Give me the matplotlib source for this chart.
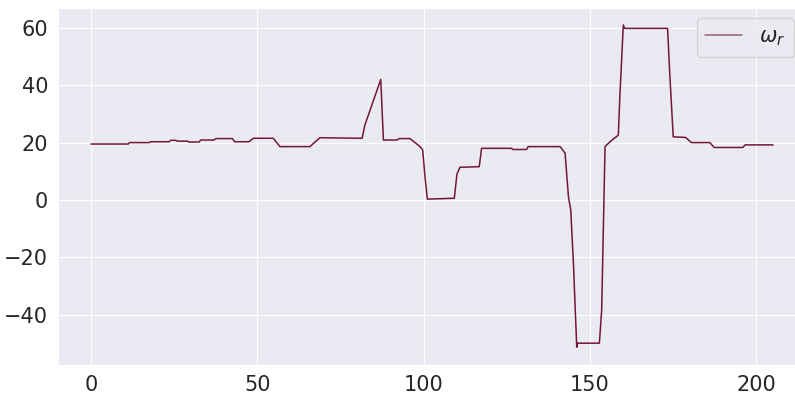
import matplotlib
matplotlib.use("Agg")
import matplotlib.pyplot as plt
import seaborn as sns

# rotor speed (time, value)
t = [0, 11.2, 11.6, 17.5, 17.9, 23.5, 24.0, 25.5, 26.0, 29.0, 29.5, 32.5, 33.0,
     37.0, 37.5, 42.5, 43.2, 47.5, 48.8, 54.8, 56.8, 65.8, 68.8, 81.5, 82.3,
     87.1, 87.9, 92.0, 92.6, 95.9, 98.9, 99.7, 100.4, 101.1, 109.2, 110.0,
     110.9, 116.7, 117.4, 126.4, 126.8, 130.9, 131.4, 141.0, 142.5, 143.5,
     144.2, 145.0, 146.0, 146.2, 152.8, 153.5, 154.5, 156.0, 158.5, 159.0,
     160.0, 160.4, 173.3, 174.0, 175.0, 178.7, 180.5, 186.0, 187.3, 195.9,
     196.6, 205.0]
omega_r = [19.5, 19.5, 20.0, 20.0, 20.3, 20.3, 20.8, 20.8, 20.5, 20.5, 20.2,
           20.2, 20.9, 20.9, 21.4, 21.4, 20.3, 20.3, 21.5, 21.5, 18.6, 18.6,
           21.7, 21.5, 26.0, 42.0, 20.9, 20.9, 21.4, 21.4, 18.6, 17.4, 8.0,
           0.3, 0.6, 9.0, 11.4, 11.6, 18.0, 18.0, 17.6, 17.6, 18.6, 18.6, 16.3,
           1.2, -3.5, -22.0, -51.3, -49.9, -49.9, -38.3, 18.6, 20.3, 22.6, 37.2,
           61.0, 59.8, 59.8, 43.0, 22.0, 21.8, 20.0, 20.0, 18.3, 18.3, 19.2,
           19.2]

sns.set_style("darkgrid")
plt.rcParams['font.size'] = 15

fig = plt.figure(figsize=(7.95, 3.94), dpi=100)
# axes run a little past the right edge, as in the reference crop
ax = fig.add_axes([58 / 795, 1 - 365 / 394, (804 - 58) / 795, (365 - 8) / 394])
ax.plot(t, omega_r, color='#67001f', lw=1.1, alpha=0.9, label=r'$\omega_r$')
ax.set_xlim(-9.9, 214.3)
ax.set_ylim(-57.5, 66.9)
ax.set_xticks([0, 50, 100, 150, 200])
ax.set_yticks([-40, -20, 0, 20, 40, 60])
ax.tick_params(labelsize=15)
leg = ax.legend(loc='upper right', fontsize=15, handlelength=1.8)
leg.get_lines()[0].set_alpha(0.6)
fig.savefig('out.png', dpi=100)
